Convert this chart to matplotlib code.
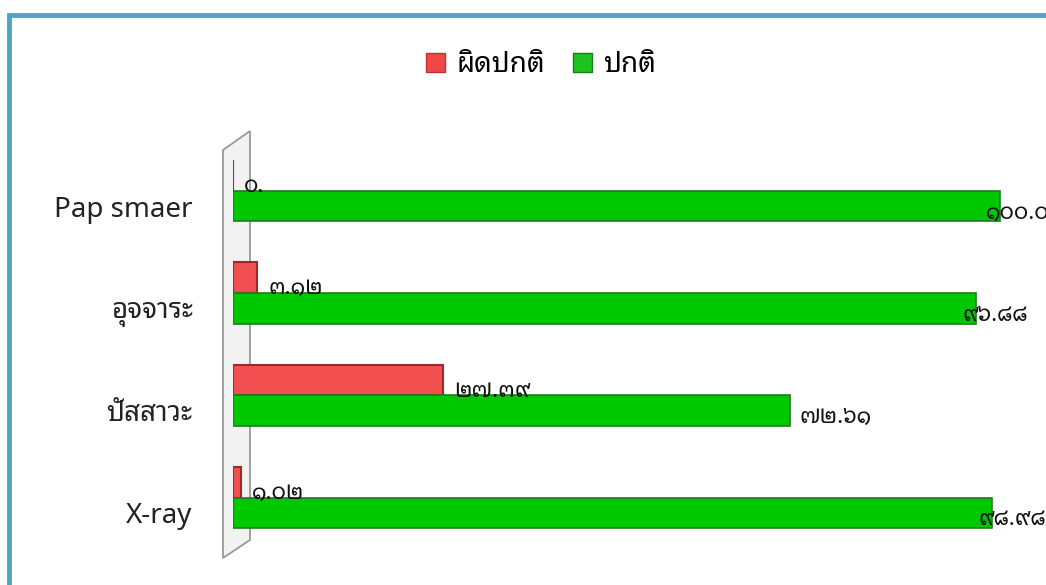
import matplotlib
matplotlib.use('Agg')
from matplotlib import pyplot as plt
from matplotlib.patches import Rectangle, Polygon

categories = ['Pap smaer', 'อุจจาระ', 'ปัสสาวะ', 'X-ray']
abnormal = [0.00, 3.12, 27.39, 1.02]   # ผิดปกติ
normal = [100.00, 96.88, 72.61, 98.98]  # ปกติ
series_names = ['ผิดปกติ', 'ปกติ']

thai_digits = str.maketrans('0123456789', '๐๑๒๓๔๕๖๗๘๙')


def thai_num(v):
    if v == 0:
        return '๐.'  # shown like this in the original
    return ('%.2f' % v).translate(thai_digits)


W, H = 1046, 585
fig = plt.figure(figsize=(W / 100, H / 100), dpi=100)

# outer frame
fig.patches.append(Rectangle((9 / W, -0.2), 1.3, 1 - 15 / H + 0.2, transform=fig.transFigure,
                             fill=False, edgecolor='#4BA6C6', linewidth=3.5, zorder=0))

# plot area: x=233px is zero, x=1000px is 100
x0, x100 = 233, 1000
xmax = 100 * (W - x0) / (x100 - x0)
top_px, bot_px = 130, 555
ax = fig.add_axes([x0 / W, 1 - bot_px / H, (W - x0) / W, (bot_px - top_px) / H])
ax.set_zorder(2)

# grey 3D wall on the left
wall = Polygon([(223 / W, 1 - 150 / H), (250 / W, 1 - 131 / H), (250 / W, 1 - 540 / H), (223 / W, 1 - 558 / H)],
               closed=True, transform=fig.transFigure, facecolor='#F2F2F2', edgecolor='#9A9A9A',
               linewidth=1.3, zorder=1)
fig.patches.append(wall)

h = 0.30
ypos = list(range(len(categories)))
y_red = [y - h for y in ypos]

ax.barh(y_red, abnormal, height=h, color='#F25050', edgecolor='#A02828', linewidth=1.5, zorder=3)
ax.barh(ypos, normal, height=h, color='#00C800', edgecolor='#1F7A1F', linewidth=1.2, zorder=3)

num_font = ['Noto Sans Thai Looped', 'DejaVu Sans']
for y, v in zip(y_red, abnormal):
    ax.annotate(thai_num(v), (v, y), xytext=(8, -8), textcoords='offset points',
                ha='left', va='center', fontsize=16, family=num_font, zorder=4,
                color='#111111', annotation_clip=False)
for y, v in zip(ypos, normal):
    dx = -10 if v > 90 else 7
    ax.annotate(thai_num(v), (v, y), xytext=(dx, -5), textcoords='offset points',
                ha='left', va='center', fontsize=16, family=num_font, zorder=4,
                color='#111111', annotation_clip=False)

ax.set_xlim(0, xmax)
ax.set_ylim(3.411, -0.743)
ax.set_yticks(ypos)
ax.set_yticklabels(categories, fontsize=20, family=['Noto Sans Thai Looped', 'Noto Sans', 'DejaVu Sans'],
                   color='#222222')
ax.tick_params(axis='y', length=0, pad=29)
ax.set_xticks([])
for s in ax.spines.values():
    s.set_visible(False)
ax.patch.set_alpha(0)

fig.legend(handles=[Rectangle((0, 0), 1, 1, facecolor='#F04848', edgecolor='#C03030'),
                    Rectangle((0, 0), 1, 1, facecolor='#1FC21F', edgecolor='#108010')],
           labels=series_names, loc='center', bbox_to_anchor=(541 / W, 1 - 65 / H), ncol=2,
           frameon=False, prop={'family': ['Noto Sans Thai Looped', 'DejaVu Sans'], 'size': 20},
           handlelength=0.7, handleheight=0.7, handletextpad=0.4, columnspacing=1.0)

plt.savefig('out.png', dpi=100)
plt.close()
